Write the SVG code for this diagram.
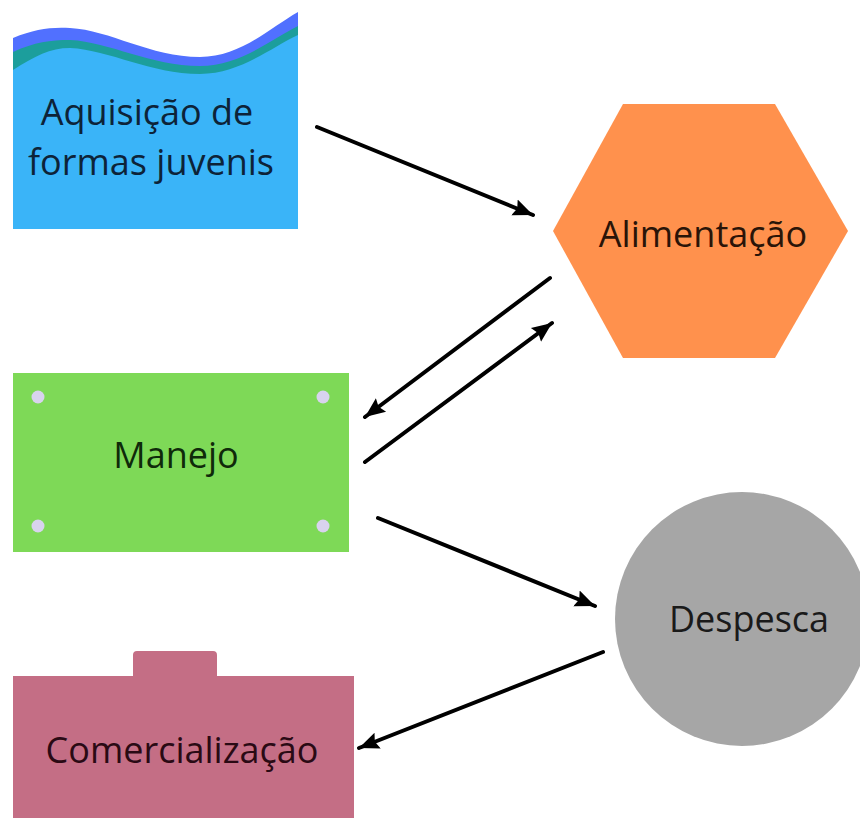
<svg xmlns="http://www.w3.org/2000/svg" width="860" height="818" viewBox="0 0 860 818">
<defs>
<style>
.lbl{font-family:"Open Sans","Noto Sans","Liberation Sans",sans-serif;font-size:36px;text-anchor:middle}
.conn{stroke:#000;stroke-width:4;fill:none;stroke-linecap:round;marker-end:url(#ah)}
.dot{fill:#D8D3EE}
</style>
<marker id="ah" markerUnits="userSpaceOnUse" markerWidth="22" markerHeight="20" viewBox="0 0 22 20" refX="20" refY="10" orient="auto">
<path d="M0,1.5 L20,10 L0,18.5 L3,10 Z" fill="#000"/>
</marker>
</defs>
<rect width="860" height="818" fill="#fff"/>
<g id="aquisicao">
<path d="M13,38 C35,29 50,27 70,28 C110,30 150,57 200,57 C240,57 270,28 298,12 L298,229 L13,229 Z" fill="#5170FF"/>
<path d="M13,52 C35,42 50,40 70,40 C110,42 150,66 200,66 C240,66 270,40 298,26 L298,229 L13,229 Z" fill="#1C9E9C"/>
<path d="M13,70 C35,56 50,48 70,48 C110,50 150,74 200,74 C240,74 270,48 298,35 L298,229 L13,229 Z" fill="#3AB4F8"/>
<text class="lbl" x="147" y="125" fill="#0D2338">Aquisição de</text>
<text class="lbl" x="151" y="175" fill="#0D2338">formas juvenis</text>
</g>
<g id="alimentacao">
<polygon points="553,231 623,104 775,104 848,231 775,358 623,358" fill="#FF914D"/>
<text class="lbl" x="703" y="247" fill="#2A1408">Alimentação</text>
</g>
<g id="manejo">
<rect x="13" y="373" width="336" height="179" fill="#7ED957"/>
<circle class="dot" cx="38" cy="397" r="6.5"/>
<circle class="dot" cx="323" cy="397" r="6.5"/>
<circle class="dot" cx="38" cy="526" r="6.5"/>
<circle class="dot" cx="323" cy="526" r="6.5"/>
<text class="lbl" x="176" y="468" fill="#0F2A0A">Manejo</text>
</g>
<g id="despesca">
<circle cx="742" cy="619" r="127" fill="#A6A6A6"/>
<text class="lbl" x="749" y="632" fill="#1A1A1A">Despesca</text>
</g>
<g id="comercializacao">
<path d="M133,676 L133,655 Q133,651 137,651 L213,651 Q217,651 217,655 L217,676 L354,676 L354,818 L13,818 L13,676 Z" fill="#C46E85"/>
<text class="lbl" x="182" y="763" fill="#2A0A14">Comercialização</text>
</g>
<g id="connectors">
<line class="conn" x1="317" y1="127" x2="533" y2="215"/>
<line class="conn" x1="550" y1="278" x2="365" y2="417"/>
<line class="conn" x1="365" y1="462" x2="552" y2="323"/>
<line class="conn" x1="378" y1="518" x2="595" y2="606"/>
<line class="conn" x1="603" y1="652" x2="359" y2="748"/>
</g>
</svg>
